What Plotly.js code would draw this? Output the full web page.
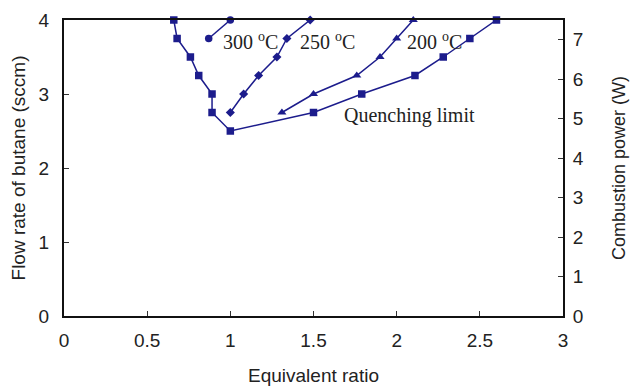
<!DOCTYPE html>
<html><head><meta charset="utf-8">
<script src="https://cdn.plot.ly/plotly-3.0.1.min.js"></script>
<style>html,body{margin:0;padding:0;background:#fff}#chart{width:634px;height:386px}</style>
</head><body><div id="chart"></div>
<script>
// Quenching limit
const qX = [0.66, 0.68, 0.76, 0.81, 0.89, 0.89, 1.0, 1.5, 1.79, 2.11, 2.28, 2.44, 2.6];
const qY = [4.0, 3.75, 3.5, 3.25, 3.0, 2.75, 2.5, 2.75, 3.0, 3.25, 3.5, 3.75, 4.0];
// 300 C
const t300X = [0.87, 1.0];
const t300Y = [3.75, 4.0];
// 250 C
const t250X = [1.0, 1.08, 1.17, 1.28, 1.34, 1.48];
const t250Y = [2.75, 3.0, 3.25, 3.5, 3.75, 4.0];
// 200 C
const t200X = [1.31, 1.5, 1.76, 1.9, 2.0, 2.1];
const t200Y = [2.75, 3.0, 3.25, 3.5, 3.75, 4.0];

const xTicks = [0, 0.5, 1, 1.5, 2, 2.5, 3];
const xTickText = ['0', '0.5', '1', '1.5', '2', '2.5', '3'];

const col = 'rgb(28,28,140)';
function tr(x, y, sym, sz) {
  return {x: x, y: y, type: 'scatter', mode: 'lines+markers',
    line: {color: col, width: 1.5}, marker: {symbol: sym, size: sz, color: col},
    cliponaxis: false, showlegend: false, hoverinfo: 'none'};
}
const data = [
  tr(qX, qY, 'square', 7.5),
  tr(t300X, t300Y, 'circle', 7.5),
  tr(t250X, t250Y, 'diamond', 7),
  tr(t200X, t200Y, 'triangle-up', 8),
  {x: [0], y: [0], yaxis: 'y2', type: 'scatter', mode: 'markers', marker: {opacity: 0}, showlegend: false, hoverinfo: 'none'}
];
const tf = {family: 'Liberation Sans, Arial, sans-serif', size: 19, color: '#222'};
const tf2 = {family: 'Liberation Sans, Arial, sans-serif', size: 18, color: '#222'};
const af = {family: 'Liberation Serif, Times New Roman, serif', size: 20, color: '#222'};
const layout = {
  width: 634, height: 386,
  margin: {l: 64, r: 71, t: 20, b: 70},
  paper_bgcolor: '#fff', plot_bgcolor: '#fff',
  xaxis: {range: [0, 3], tickvals: xTicks, ticktext: xTickText, ticks: 'inside', ticklen: 5,
    tickcolor: '#333', showline: true, linecolor: '#111', linewidth: 2, mirror: true,
    showgrid: false, zeroline: false, tickfont: tf, ticklabelstandoff: 6, automargin: false,
    title: {text: 'Equivalent ratio', font: tf, standoff: 20}},
  yaxis: {range: [0, 4], dtick: 1, ticks: 'inside', ticklen: 5, tickcolor: '#333',
    showline: true, linecolor: '#111', linewidth: 2, showgrid: false, zeroline: false,
    tickfont: tf, ticklabelstandoff: 9, automargin: false,
    title: {text: 'Flow rate of butane (sccm)', font: tf, standoff: 8}},
  yaxis2: {range: [0, 7.5], dtick: 1, overlaying: 'y', side: 'right', ticks: 'inside', ticklen: 5,
    tickcolor: '#333', showline: true, linecolor: '#111', linewidth: 2, showgrid: false,
    zeroline: false, tickfont: tf, ticklabelstandoff: 4, automargin: false,
    title: {text: 'Combustion power (W)', font: tf2, standoff: 30}},
  annotations: [
    {x: 1.124, y: 3.72, xref: 'x', yref: 'y', text: '300 <sup>o</sup>C', showarrow: false, font: af, xanchor: 'center', yanchor: 'middle'},
    {x: 1.585, y: 3.72, xref: 'x', yref: 'y', text: '250 <sup>o</sup>C', showarrow: false, font: af, xanchor: 'center', yanchor: 'middle'},
    {x: 2.225, y: 3.72, xref: 'x', yref: 'y', text: '200 <sup>o</sup>C', showarrow: false, font: af, xanchor: 'center', yanchor: 'middle'},
    {x: 1.67, y: 2.716, xref: 'x', yref: 'y', text: 'Quenching limit', showarrow: false, font: af, xanchor: 'left', yanchor: 'middle'}
  ]
};
Plotly.newPlot('chart', data, layout, {displayModeBar: false, staticPlot: true});
</script></body></html>
